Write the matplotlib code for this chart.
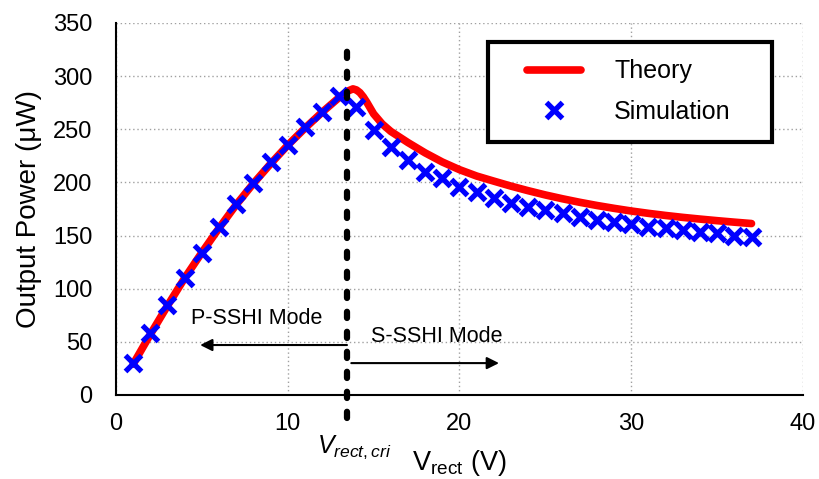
import matplotlib
matplotlib.use("Agg")
import matplotlib.pyplot as plt
from matplotlib.legend_handler import HandlerLine2D

plt.rcParams['font.family'] = ['Liberation Sans', 'DejaVu Sans']
plt.rcParams['mathtext.fontset'] = 'custom'
plt.rcParams['mathtext.rm'] = 'Liberation Sans'
plt.rcParams['mathtext.it'] = 'Liberation Sans:italic'

# data
theory_v = [1, 2, 3, 4, 5, 6, 7, 8, 9, 10, 11, 12, 13, 13.5, 13.8, 14.0,
            14.2, 14.4, 14.6, 14.8, 15.0, 15.5, 16, 17, 18, 19, 20, 21, 22,
            23, 24, 25, 26, 27, 28, 29, 30, 31, 32, 33, 34, 35, 36, 37]
theory_p = [29, 57, 84, 110, 134, 157, 179, 199, 217.5, 235, 251, 266, 280,
            286, 288, 287, 284.5, 280.5, 275.5, 270, 264.5, 255, 248, 237.5,
            227.8, 219.2, 212, 206, 201.2, 196.5, 192.2, 188.2, 184.6, 181.3,
            178.3, 175.6, 173.1, 170.9, 168.9, 167.1, 165.5, 164.0, 162.6,
            161.3]

sim_v = list(range(1, 38))
sim_p = [30, 58, 85, 110, 134, 158, 180, 199, 219, 235, 252, 266, 281,
         271, 249, 233, 221, 210, 204, 196, 191, 185, 181, 177, 174, 171,
         167, 165, 163, 161, 158, 157, 155, 153, 152, 150, 149]

v_cri = 13.45
xticks = [0, 10, 20, 30, 40]
yticks = [0, 50, 100, 150, 200, 250, 300, 350]

fig = plt.figure(figsize=(8.19, 4.79), dpi=100)
ax = fig.add_axes([0.1416, 0.1754, 0.8389, 0.7766])

ax.plot(theory_v, theory_p, color='#ff0000', lw=5.5, solid_capstyle='round',
        solid_joinstyle='round', label='Theory', zorder=3)
ax.plot(sim_v, sim_p, ls='none', marker='x', ms=11, mew=3.8, color='#0000ff',
        label='Simulation', zorder=4)

ax.set_xlim(0, 40)
ax.set_ylim(0, 350)
ax.set_xticks(xticks)
ax.set_yticks(yticks)
ax.tick_params(length=0, labelsize=17)
ax.tick_params(axis='y', pad=17)
ax.tick_params(axis='x', pad=13)
ax.grid(True, color='#a0a0a0', lw=1, ls=(0, (1, 2)))
for s in ['top', 'right']:
    ax.spines[s].set_visible(False)
for s in ['left', 'bottom']:
    ax.spines[s].set_linewidth(1.5)

# critical voltage line
ax.plot([v_cri, v_cri], [-22, 336], color='black', lw=4.5,
        dashes=(1.0, 2.2), dash_capstyle='round', clip_on=False, zorder=5)

# mode arrows
ax.annotate('', xy=(4.9, 47), xytext=(v_cri, 47),
            arrowprops=dict(arrowstyle='-|>', color='black', lw=1.5,
                            mutation_scale=18, shrinkA=0, shrinkB=0))
ax.annotate('', xy=(22.3, 30), xytext=(13.7, 30),
            arrowprops=dict(arrowstyle='-|>', color='black', lw=1.5,
                            mutation_scale=18, shrinkA=0, shrinkB=0))
ax.text(8.2, 72, 'P-SSHI Mode', fontsize=15.5, ha='center', va='center')
ax.text(18.7, 55, 'S-SSHI Mode', fontsize=15.5, ha='center', va='center')

ax.text(13.85, -49, r'$V_{rect,cri}$', fontsize=18, ha='center', va='center',
        clip_on=False)
ax.set_xlabel(r'V$_{\mathrm{rect}}$ (V)', fontsize=19.5)
ax.xaxis.set_label_coords(0.5, -0.142)
ax.set_ylabel('Output Power (μW)', fontsize=20)
ax.yaxis.set_label_coords(-0.108, 0.5)

leg = ax.legend(loc='upper left', bbox_to_anchor=(0.5415, 0.677, 0.4135, 0.272),
                mode='expand', fontsize=18,
                frameon=True, fancybox=False, framealpha=1, edgecolor='black',
                borderaxespad=0, handlelength=3.0, handletextpad=1.35,
                labelspacing=0.67, borderpad=0.7,
                handler_map={plt.Line2D: HandlerLine2D(xpad=0.85)})
leg.get_frame().set_linewidth(3)

fig.savefig('out.png', dpi=100)
